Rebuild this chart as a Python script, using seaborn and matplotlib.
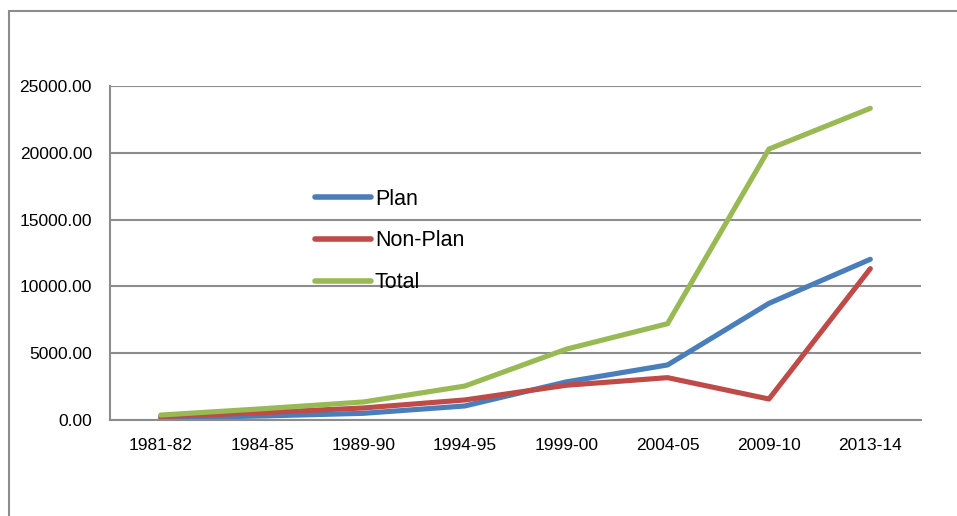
import pandas as pd
import seaborn as sns
import matplotlib.pyplot as plt
from matplotlib.patches import Rectangle

# data
years = ["1981-82", "1984-85", "1989-90", "1994-95", "1999-00", "2004-05", "2009-10", "2013-14"]
plan = [150, 300, 500, 1050, 2850, 4120, 8730, 12030]
non_plan = [250, 550, 900, 1500, 2600, 3170, 1570, 11330]
total = [370, 840, 1350, 2540, 5300, 7210, 20280, 23330]

series_names = ["Plan", "Non-Plan", "Total"]
colors = {"Plan": "#4a7ebb", "Non-Plan": "#be4b48", "Total": "#98b954"}

df = pd.DataFrame({
    "year": years * 3,
    "value": plan + non_plan + total,
    "series": [s for s in series_names for _ in years],
})

sns.set_theme(style="white")
plt.rcParams["font.family"] = ["Liberation Sans", "DejaVu Sans"]

fig = plt.figure(figsize=(9.57, 5.16), dpi=100)
ax = fig.add_axes([110 / 957, 96 / 516, 811 / 957, 334 / 516])

sns.lineplot(data=df, x="year", y="value", hue="series", palette=colors,
             hue_order=series_names, sort=False, linewidth=3.7, ax=ax)
for line in ax.get_lines():
    line.set_solid_capstyle("round")

ax.set_xlim(-0.5, len(years) - 0.5)
ax.set_ylim(0, 25000)
ax.set_yticks(range(0, 25001, 5000))
ax.set_yticklabels([f"{v:.2f}" for v in range(0, 25001, 5000)])
ax.set_xlabel("")
ax.set_ylabel("")
ax.yaxis.grid(True, color="#8c8c8c", linewidth=1.5)
ax.xaxis.grid(False)
ax.tick_params(axis="both", length=0, labelsize=12.5, colors="black")
ax.tick_params(axis="x", pad=13)
ax.tick_params(axis="y", pad=13)
for side in ["top", "right"]:
    ax.spines[side].set_visible(False)
ax.spines["left"].set_color("#8c8c8c")
ax.spines["left"].set_linewidth(1.5)
ax.spines["bottom"].set_color("#8c8c8c")
ax.spines["bottom"].set_linewidth(1.5)

handles, labels = ax.get_legend_handles_labels()
leg = ax.legend(handles, labels, loc="center left", bbox_to_anchor=(315 / 957, 1 - 241 / 516),
                bbox_transform=fig.transFigure, frameon=False, fontsize=15.5,
                borderpad=0, borderaxespad=0, labelcolor="black",
                handlelength=2.6, handletextpad=0.18, labelspacing=0.96)
for h in leg.get_lines():
    h.set_linewidth(4)
    h.set_solid_capstyle("round")

# chart frame
fig.patches.append(Rectangle((9 / 957, -0.1), 1.2, 1.1 - 11 / 516, transform=fig.transFigure,
                             fill=False, edgecolor="#8c8c8c", linewidth=1.5))

fig.savefig("out.png", dpi=100)
